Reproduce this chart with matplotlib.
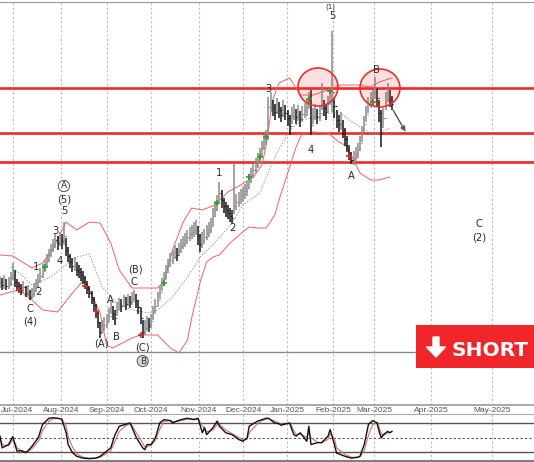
import numpy as np
import matplotlib
matplotlib.use("Agg")
import matplotlib.pyplot as plt
from matplotlib.patches import Ellipse, Rectangle, FancyArrow
from matplotlib.transforms import IdentityTransform, blended_transform_factory
from matplotlib import font_manager

# ---------------- data (bar index = trading day) ----------------
close = [123, 120, 125, 119, 122, 127, 133, 123, 119, 117, 115, 118, 112, 114, 108, 111, 115, 119, 125, 129,
         135, 139, 145, 150, 155, 159, 165, 162, 167, 164, 169, 155, 149, 143, 139, 141, 135, 133, 130, 127,
         121, 117, 112, 106, 100, 92, 83, 73, 77, 80, 83, 89, 98, 91, 87, 95, 101, 99, 104, 101,
         105, 103, 107, 111, 105, 98, 87, 73, 77, 81, 79, 84, 92, 99, 105, 113, 120, 126, 133, 139,
         145, 148, 153, 150, 155, 159, 162, 165, 168, 171, 173, 175, 177, 169, 161, 165, 168, 172, 175, 179,
         189, 196, 202, 212, 205, 199, 195, 192, 189, 187, 199, 203, 206, 209, 211, 214, 217, 224, 230, 235,
         240, 245, 250, 257, 263, 268, 298, 305, 297, 293, 300, 295, 290, 297, 292, 287, 279, 289, 293, 288,
         292, 286, 291, 295, 297, 306, 280, 289, 293, 288, 292, 305, 297, 293, 301, 310, 313, 299, 285, 281,
         284, 275, 266, 260, 250, 245, 247, 251, 255, 262, 271, 281, 291, 300, 305, 307, 317, 307, 292, 271,
         287, 304, 312, 306, 301]
high = [129, 127, 130, 126, 128, 133, 142, 135, 126, 123, 121, 124, 119, 120, 115, 117, 122, 126, 131, 137,
        141, 145, 151, 156, 161, 166, 172, 169, 173, 171, 183, 167, 158, 151, 147, 148, 143, 140, 137, 134,
        129, 124, 119, 114, 108, 101, 93, 83, 85, 88, 91, 97, 105, 99, 95, 103, 107, 106, 110, 108,
        111, 109, 113, 115, 111, 105, 97, 85, 85, 89, 87, 91, 99, 106, 113, 120, 127, 133, 140, 146,
        152, 155, 160, 157, 162, 166, 169, 172, 175, 178, 180, 183, 185, 179, 171, 173, 176, 180, 183, 187,
        197, 204, 210, 223, 215, 207, 203, 200, 197, 195, 242, 211, 213, 216, 218, 221, 224, 231, 237, 242,
        247, 252, 257, 264, 270, 275, 308, 313, 305, 301, 307, 303, 298, 305, 300, 295, 290, 298, 301, 296,
        300, 294, 299, 302, 305, 313, 315, 297, 301, 296, 300, 322, 305, 301, 309, 317, 374, 307, 295, 290,
        293, 285, 277, 269, 259, 253, 254, 258, 262, 269, 279, 289, 299, 308, 313, 315, 328, 317, 305, 295,
        297, 313, 322, 315, 309]
low = [117, 115, 116, 115, 116, 119, 125, 118, 114, 112, 110, 112, 108, 109, 105, 106, 108, 113, 117, 122,
       127, 133, 138, 143, 148, 153, 157, 155, 159, 156, 160, 149, 143, 137, 133, 134, 129, 127, 124, 121,
       116, 111, 107, 101, 94, 87, 77, 67, 71, 74, 77, 83, 91, 85, 80, 89, 95, 93, 98, 95,
       99, 97, 100, 103, 97, 91, 81, 67, 70, 74, 73, 77, 85, 92, 99, 106, 114, 119, 126, 132,
       138, 141, 146, 144, 149, 152, 156, 158, 161, 164, 166, 168, 170, 160, 153, 157, 161, 165, 168, 172,
       179, 188, 194, 203, 197, 192, 188, 186, 183, 182, 191, 195, 198, 201, 203, 206, 209, 216, 222, 227,
       232, 237, 242, 249, 255, 260, 265, 293, 289, 285, 291, 287, 283, 288, 285, 279, 270, 281, 285, 281,
       284, 278, 283, 287, 289, 297, 270, 281, 285, 281, 284, 295, 289, 285, 293, 301, 293, 287, 277, 273,
       275, 267, 259, 253, 245, 241, 240, 243, 247, 254, 263, 273, 283, 292, 297, 299, 307, 299, 283, 258,
       277, 295, 303, 298, 295]

# Bollinger bands (sampled)
bb_up_idx = [0, 6, 15, 20, 25, 31, 36, 42, 47, 52, 56, 62, 74, 77, 81, 86, 90, 95, 101, 107, 113, 119, 123,
             125, 128, 131, 136, 141, 147, 154, 160, 168, 174, 178, 184]
bb_up = [150, 149, 137, 142, 157, 183, 175, 183, 182, 162, 135, 117, 117, 123, 155, 183, 197, 195, 200, 213,
         220, 228, 240, 260, 305, 322, 327, 310, 310, 315, 320, 320, 318, 323, 327]
bb_lo_idx = [0, 5, 9, 15, 20, 27, 34, 39, 41, 47, 50, 53, 62, 66, 74, 80, 84, 88, 90, 94, 97, 100, 103, 108,
             114, 117, 121, 125, 129, 131, 136, 139, 142, 147, 154, 158, 163, 166, 169, 174, 178, 183]
bb_lo = [110, 113, 115, 105, 95, 93, 112, 124, 120, 92, 60, 57, 67, 70, 70, 57, 52, 65, 87, 123, 143, 148,
         150, 162, 173, 178, 177, 177, 190, 205, 238, 258, 272, 273, 272, 265, 258, 245, 232, 225, 225, 228]
bb_mid_idx = [5, 9, 15, 23, 31, 36, 42, 48, 55, 62, 70, 74, 81, 88, 94, 102, 109, 114, 122, 125, 130, 136,
              142, 149, 155, 160, 164, 169, 174, 178, 183]
bb_mid = [138, 132, 120, 127, 140, 148, 151, 118, 102, 95, 92, 95, 108, 128, 148, 165, 182, 200, 212, 228,
          252, 275, 285, 288, 292, 292, 285, 278, 272, 272, 277]

# signal markers
buy_idx = [21, 77, 102, 117, 122, 125, 145, 155, 175]
buy_px = [138, 122, 202, 228, 248, 268, 306, 314, 303]
sell_idx = [9, 40, 45, 66, 164]
sell_px = [115, 119, 94, 70, 249]

# key levels
red_levels = [317, 272, 243]
base_level = 53

# stochastic oscillator (sampled)
osc_idx = [0, 1, 4, 6, 7, 8, 10, 12, 13, 15, 18, 20, 23, 25, 27, 29, 31, 32, 34, 36, 39, 42, 45, 47, 49,
           52, 54, 56, 59, 61, 62, 64, 67, 68, 69, 71, 73, 75, 77, 80, 81, 83, 85, 88, 91, 93, 95, 96, 97,
           100, 102, 103, 106, 109, 112, 114, 116, 117, 121, 123, 125, 126, 129, 131, 132, 134, 136, 137,
           138, 139, 141, 144, 145, 146, 149, 151, 154, 155, 157, 158, 162, 165, 168, 169, 171, 173, 175,
           177, 178, 179, 180, 182, 183, 184]
osc_k = [53, 28, 35, 52, 35, 21, 22, 18, 21, 31, 50, 78, 91, 92, 91, 89, 61, 35, 18, 10, 6, 5, 6, 10, 17,
         28, 56, 74, 78, 81, 71, 50, 28, 24, 35, 35, 50, 81, 88, 86, 81, 85, 88, 91, 88, 91, 60, 71, 56,
         71, 85, 74, 60, 56, 46, 42, 49, 74, 85, 88, 91, 91, 81, 79, 76, 79, 81, 67,
         56, 53, 60, 42, 74, 35, 39, 39, 53, 67, 35, 17, 10, 6, 8, 10, 35, 78, 86,
         81, 63, 49, 56, 63, 60, 63]
osc_d = [48, 35, 32, 45, 40, 28, 22, 20, 20, 26, 42, 65, 85, 90, 91, 90, 75, 52, 30, 15, 8, 6, 6, 8, 13,
         22, 42, 63, 75, 79, 76, 60, 38, 30, 30, 34, 44, 68, 84, 86, 84, 84, 86, 89, 89, 89, 75, 70, 62,
         66, 78, 78, 66, 58, 50, 45, 46, 60, 80, 86, 89, 90, 85, 81, 78, 78, 80, 74,
         64, 57, 57, 50, 60, 50, 40, 39, 46, 58, 48, 28, 14, 8, 8, 9, 22, 55, 78,
         83, 72, 58, 54, 60, 61, 62]

month_labels = ['Jul-2024', 'Aug-2024', 'Sep-2024', 'Oct-2024', 'Nov-2024', 'Dec-2024',
                'Jan-2025', 'Feb-2025', 'Mar-2025', 'Apr-2025', 'May-2025']

# wave labels: (text, bar index, price)
wave_labels = [("5", 156, 389), ("3", 126, 316), ("4", 146, 255), ("A", 165, 229), ("B", 176.5, 335),
               ("1", 103, 232), ("2", 109, 177), ("(5)", 30, 206), ("5", 30, 194), ("3", 26, 174),
               ("1", 17, 138), ("4", 28, 144), ("2", 18, 113), ("C", 14, 96), ("(4)", 14, 83),
               ("(B)", 63.4, 135), ("C", 63, 123), ("A", 52, 105), ("B", 54.5, 68), ("(A)", 47.4, 61),
               ("(C)", 67, 57), ("C", 225, 181), ("(2)", 225, 168)]
top_label = ("(1)", 155, 402)
circled_labels = [("A", 30, 219, 'white'), ("B", 67, 44, '#d8d8d8')]
circle_marks = [(149.3, 318), (178.4, 317)]
target_arrow = [(184, 297), (191, 271)]

# ---------------- layout ----------------
W, H = 534, 462
PX_PER_BAR = 2.13
month_pos = [6.1, 28.6, 50.2, 70.9, 93.4, 114.1, 134.7, 156.3, 175.6, 202.3, 231.0]

names = {f.name for f in font_manager.fontManager.ttflist}
date_family = 'Liberation Sans Narrow' if 'Liberation Sans Narrow' in names else 'Liberation Sans'

fig = plt.figure(figsize=(W / 100, H / 100), dpi=100)
fig.patch.set_facecolor('white')
ax = fig.add_axes([0, (H - 405) / H, 1, 403 / H])
axo = fig.add_axes([0, 1 / H, 1, 47 / H], sharex=ax)

n = len(close)
idx = np.arange(n)
c = np.array(close, float)
o = np.concatenate([[c[0]], c[:-1]])
h = np.array(high, float)
l = np.array(low, float)
up = c >= o
cols = np.where(up, '#8c8c8c', '#151515')

for a in (ax, axo):
    for xp in month_pos:
        a.axvline(xp, color='#bdbdbd', lw=0.8, ls=(0, (2, 2)), zorder=0)

for lv in red_levels:
    ax.axhline(lv, color='#f02828', lw=1.9, zorder=2)
ax.axhline(base_level, color='#8c8c8c', lw=1.0, zorder=2)

ax.plot(bb_up_idx, bb_up, color='#f06060', lw=0.7, zorder=3)
ax.plot(bb_lo_idx, bb_lo, color='#f06060', lw=0.7, zorder=3)
ax.plot(bb_mid_idx, bb_mid, color='#999999', lw=0.7, ls=(0, (1.5, 1.5)), zorder=3)

ax.vlines(idx, l, h, colors=cols, lw=1.1, zorder=4)
ax.hlines(o, idx - 0.5, idx, colors=cols, lw=0.8, zorder=4)
ax.hlines(c, idx, idx + 0.5, colors=cols, lw=0.8, zorder=4)

ax.scatter(buy_idx, buy_px, marker='+', s=18, color='#2ca02c', lw=1.2, zorder=5)
ax.scatter(sell_idx, sell_px, marker='+', s=18, color='#d62728', lw=1.2, zorder=5)

for (cx, cy) in circle_marks:
    ax.add_patch(Ellipse((cx, cy), 40 / PX_PER_BAR, 38, facecolor=(1, 0.2, 0.2, 0.15),
                         edgecolor='#e83030', lw=1.2, zorder=6))

ax.annotate('', xy=target_arrow[1], xytext=target_arrow[0],
            arrowprops=dict(arrowstyle='-|>', color='#555555', lw=1.0, mutation_scale=7), zorder=7)

for t, x, y in wave_labels:
    ax.text(x, y, t, fontsize=7.2, color='#2a2a2a', ha='center', va='center', zorder=8)
ax.text(top_label[1], top_label[2], top_label[0], fontsize=5.0, color='#2a2a2a', ha='center',
        va='top', zorder=8, clip_on=False)
for t, x, y, fc in circled_labels:
    ax.text(x, y, t, fontsize=6.5, color='#2a2a2a', ha='center', va='center', zorder=8,
            bbox=dict(boxstyle='circle,pad=0.12', fc=fc, ec='#555555', lw=0.7))

ax.set_xlim(0, W / PX_PER_BAR)
ax.set_ylim(0, 403)
ax.set_yticks([])
ax.set_xticks(month_pos)
ax.set_xticklabels([''] + month_labels[1:], family=date_family)
ax.tick_params(axis='x', length=0, pad=1.5, labelsize=6.0, labelcolor='#555555')
# first month label sits against the left edge
trans = blended_transform_factory(ax.transData, ax.transAxes)
ax.text(0.3, -0.0045, month_labels[0], transform=trans, family=date_family, fontsize=6.0,
        color='#555555', ha='left', va='top', clip_on=False)
for s in ['left', 'right']:
    ax.spines[s].set_visible(False)
ax.spines['top'].set_color('#999999')
ax.spines['bottom'].set_color('#999999')
ax.spines['bottom'].set_linewidth(1.2)

# oscillator
axo.axhline(80, color='#555555', lw=1.0)
axo.axhline(20, color='#555555', lw=1.0)
axo.axhline(50, color='#555555', lw=0.8, ls=(0, (2, 2)))
axo.plot(osc_idx, osc_d, color='#d9706a', lw=0.8)
axo.plot(osc_idx, osc_k, color='#111111', lw=1.0)
axo.set_ylim(0, 100)
axo.set_yticks([])
axo.tick_params(axis='x', bottom=False, labelbottom=False)
for s in ['left', 'right']:
    axo.spines[s].set_visible(False)
axo.spines['top'].set_color('#aaaaaa')
axo.spines['bottom'].set_color('#666666')
axo.spines['bottom'].set_linewidth(1.2)

# SHORT badge (pixel coordinates)
it = IdentityTransform()
fig.patches.append(Rectangle((416, H - 368), 130, 43, transform=it, facecolor='#f0262b',
                             edgecolor='none', zorder=20))
fig.patches.append(FancyArrow(436, H - 337, 0, -20, width=6, head_width=19, head_length=10,
                              length_includes_head=True, transform=it, color='white', zorder=21))
fig.text(490, H - 356, 'SHORT', transform=it, color='white', fontsize=14.5, fontweight='bold',
         ha='center', va='baseline', zorder=22)

fig.savefig('out.png', dpi=100)
